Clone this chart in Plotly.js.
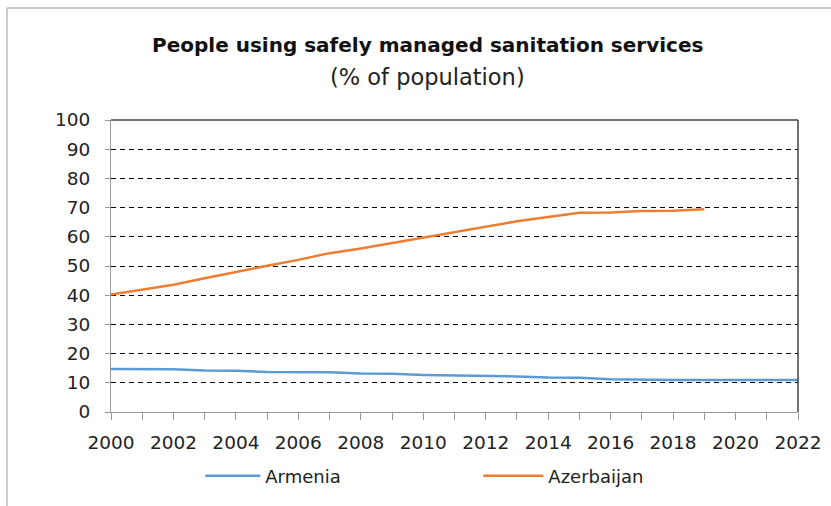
<!DOCTYPE html>
<html>
<head>
<meta charset="utf-8">
<script src="https://cdn.plot.ly/plotly-3.0.1.min.js"></script>
<style>
  html, body { margin: 0; padding: 0; background: #fff; }
  #chart { width: 831px; height: 506px; }
</style>
</head>
<body>
<div id="chart"></div>
<script>
// Years on the x axis
const years = [2000, 2001, 2002, 2003, 2004, 2005, 2006, 2007, 2008, 2009, 2010,
               2011, 2012, 2013, 2014, 2015, 2016, 2017, 2018, 2019, 2020, 2021, 2022];

// People using safely managed sanitation services, % of population
const armenia = [14.7, 14.7, 14.6, 14.2, 14.1, 13.7, 13.6, 13.6, 13.2, 13.1, 12.7,
                 12.6, 12.3, 12.2, 11.8, 11.7, 11.2, 11.0, 11.0, 11.0, 11.0, 11.0, 11.0];
const azerbaijanYears = years.slice(0, 20);
const azerbaijan = [40.2, 42.0, 43.6, 45.8, 48.0, 50.1, 52.1, 54.4, 56.0, 57.9,
                    59.8, 61.6, 63.4, 65.3, 66.8, 68.2, 68.3, 68.8, 68.9, 69.4];

// Tick labels: every year gets a tick mark, every second year a label
const xTickText = years.map(y => (y % 2 === 0 ? String(y) : ''));
const yTickVals = [0, 10, 20, 30, 40, 50, 60, 70, 80, 90, 100];

const titleMain = 'People using safely managed sanitation services';
const titleSub = '(% of population)';

const FONT = 'DejaVu Sans, sans-serif';
const TEXT = '#222';

const traces = [
  {
    x: years, y: armenia, name: 'Armenia', type: 'scatter', mode: 'lines',
    line: { color: '#5B9BD5', width: 2.5 }, legend: 'legend'
  },
  {
    x: azerbaijanYears, y: azerbaijan, name: 'Azerbaijan', type: 'scatter', mode: 'lines',
    line: { color: '#ED7D31', width: 2.5 }, legend: 'legend2'
  }
];

const legendBase = {
  orientation: 'h',
  xref: 'container', yref: 'container',
  xanchor: 'left', y: 0.059, yanchor: 'middle',
  font: { family: FONT, size: 18, color: TEXT },
  bgcolor: 'rgba(0,0,0,0)'
};

const layout = {
  width: 831, height: 506,
  margin: { l: 111, r: 33, t: 120, b: 94 },
  paper_bgcolor: '#fff', plot_bgcolor: '#fff',
  font: { family: FONT, size: 18, color: TEXT },
  xaxis: {
    range: [2000, 2022],
    tickvals: years, ticktext: xTickText,
    ticks: 'outside', ticklen: 7, tickcolor: '#999', tickwidth: 1,
    ticklabelstandoff: 7,
    showline: true, linecolor: '#999', linewidth: 1,
    showgrid: false, zeroline: false,
    tickfont: { family: FONT, size: 18.5, color: TEXT }
  },
  yaxis: {
    range: [0, 100],
    tickvals: yTickVals,
    ticks: 'outside', ticklen: 5, tickcolor: '#999', tickwidth: 1,
    ticklabelstandoff: 11,
    showline: true, linecolor: '#999', linewidth: 1,
    showgrid: true, gridcolor: '#000', gridwidth: 1, griddash: '5px,4px',
    zeroline: false,
    tickfont: { family: FONT, size: 18.5, color: TEXT }
  },
  showlegend: true,
  legend: Object.assign({}, legendBase, { x: 0.241, itemwidth: 55 }),
  legend2: Object.assign({}, legendBase, { x: 0.5756, itemwidth: 60 }),
  annotations: [
    { text: '<b>' + titleMain + '</b>', xref: 'paper', yref: 'paper',
      x: 0.4614, y: 1.2568, xanchor: 'center', yanchor: 'middle', showarrow: false,
      font: { family: FONT, size: 20, color: '#111' } },
    { text: titleSub, xref: 'paper', yref: 'paper',
      x: 0.4614, y: 1.1473, xanchor: 'center', yanchor: 'middle', showarrow: false,
      font: { family: FONT, size: 22.5, color: TEXT } }
  ],
  shapes: [
    // plot frame, top and right edges
    { type: 'line', xref: 'paper', yref: 'paper', x0: 0, x1: 1, y0: 1, y1: 1,
      line: { color: '#404040', width: 1.5 } },
    { type: 'line', xref: 'paper', yref: 'paper', x0: 1, x1: 1, y0: 0, y1: 1,
      line: { color: '#404040', width: 1.5 } },
    // outer chart border
    { type: 'rect', xref: 'paper', yref: 'paper', x0: -0.1514, x1: 1.1, y0: -0.4, y1: 1.3836,
      line: { color: '#9a9a9a', width: 1 }, fillcolor: 'rgba(0,0,0,0)' }
  ]
};

Plotly.newPlot('chart', traces, layout, { displayModeBar: false, staticPlot: true });
</script>
</body>
</html>
